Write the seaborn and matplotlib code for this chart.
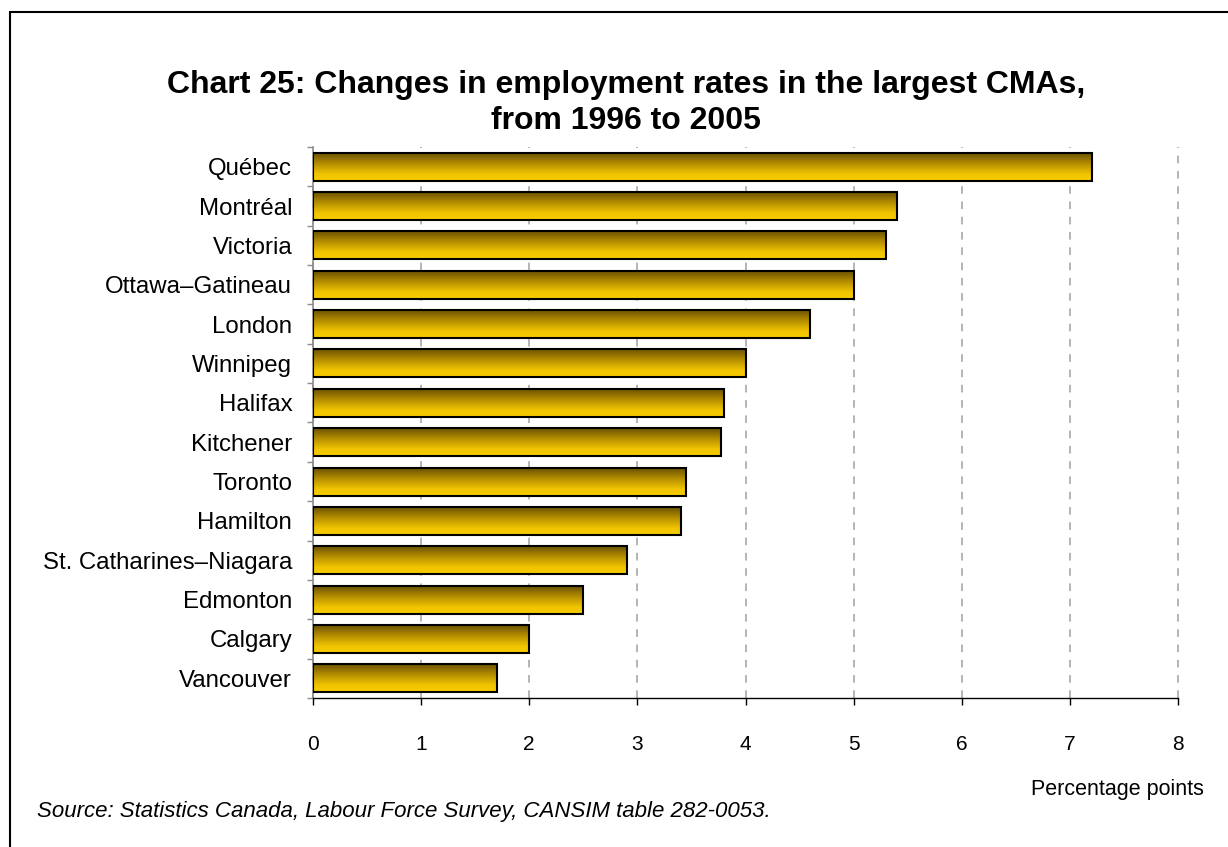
import numpy as np
import pandas as pd
import matplotlib
matplotlib.use("Agg")
import matplotlib.pyplot as plt
from matplotlib.colors import LinearSegmentedColormap
from matplotlib.patches import Rectangle
import seaborn as sns

# Change in employment rate, 1996 to 2005, percentage points
cities = ["Québec", "Montréal", "Victoria", "Ottawa–Gatineau", "London",
          "Winnipeg", "Halifax", "Kitchener", "Toronto", "Hamilton",
          "St. Catharines–Niagara", "Edmonton", "Calgary", "Vancouver"]
changes = [7.2, 5.4, 5.3, 5.0, 4.6, 4.0, 3.8, 3.77, 3.45, 3.4, 2.9, 2.5, 2.0, 1.7]
x_ticks = [0, 1, 2, 3, 4, 5, 6, 7, 8]

title = "Chart 25: Changes in employment rates in the largest CMAs,\nfrom 1996 to 2005"
x_label = "Percentage points"
source = "Source: Statistics Canada, Labour Force Survey, CANSIM table 282-0053."

df = pd.DataFrame({"city": cities, "change": changes})

sns.set_theme(style="white")
plt.rcParams["font.family"] = ["Liberation Sans", "DejaVu Sans"]

W, H = 1228, 847
fig = plt.figure(figsize=(W / 100, H / 100), dpi=100)
ax = fig.add_axes([313 / W, 1 - 698 / H, (1178 - 313) / W, (698 - 147) / H])

sns.barplot(data=df, x="change", y="city", orient="h", width=0.71,
            color="#e0b400", edgecolor="black", linewidth=1.5, ax=ax)

# Vertical gold gradient inside each bar: dark at the top, bright at the bottom
gold = LinearSegmentedColormap.from_list(
    "gold", [(0.0, "#6b5200"), (0.35, "#b08a00"), (0.75, "#f0c400"), (1.0, "#f7cc00")])
grad = np.linspace(0, 1, 64).reshape(-1, 1)
for patch in ax.patches:
    x0, y0 = patch.get_x(), patch.get_y()
    w, h = patch.get_width(), patch.get_height()
    im = ax.imshow(grad, cmap=gold, aspect="auto", origin="upper",
                   extent=(x0, x0 + w, y0 + h, y0), zorder=2, interpolation="bilinear")
    im.set_clip_path(patch)
    patch.set_facecolor("none")
    patch.set_zorder(3)

ax.set_xlim(0, 8)
ax.set_ylim(len(cities) - 0.5, -0.5)
ax.set_xticks(x_ticks)
ax.set_xticklabels([str(t) for t in x_ticks])
ax.set_xlabel("")
ax.set_ylabel("")

ax.set_axisbelow(True)
ax.grid(axis="x", color="#a0a0a0", linestyle=(0, (5, 5)), linewidth=1.1)
ax.grid(axis="y", visible=False)
for gl in ax.get_xgridlines():
    gl.set_clip_on(False)

for s in ("top", "right"):
    ax.spines[s].set_visible(False)
ax.spines["left"].set_color("#8c8c8c")
ax.spines["left"].set_linewidth(1.2)
ax.spines["bottom"].set_color("black")
ax.spines["bottom"].set_linewidth(1.0)

ax.tick_params(axis="x", which="major", direction="out", length=5, width=1.0,
               color="black", pad=22, labelsize=15, labelcolor="black", bottom=True)
ax.tick_params(axis="y", which="major", length=0, pad=15, labelsize=17.3, labelcolor="black")
ax.set_yticks(np.arange(-0.5, len(cities) + 0.5, 1.0), minor=True)
ax.tick_params(axis="y", which="minor", direction="out", length=4, width=1.0,
               color="#8c8c8c", left=True)

fig.text(626 / W, 1 - 103 / H, title, ha="center", va="center",
         fontsize=23, fontweight="bold", linespacing=1.25, color="black")
fig.text(1204 / W, 1 - 789 / H, x_label, ha="right", va="center",
         fontsize=15.5, color="black")
fig.text(37 / W, 1 - 811 / H, source, ha="left", va="center",
         fontsize=16, style="italic", color="black")

# Outer frame, open to the right and bottom edges
fig.add_artist(Rectangle((10 / W, -0.1), 1.1, (1 - 12 / H) + 0.1,
                         transform=fig.transFigure, fill=False,
                         edgecolor="black", linewidth=1.5))

fig.savefig("out.png", dpi=100, facecolor="white")
